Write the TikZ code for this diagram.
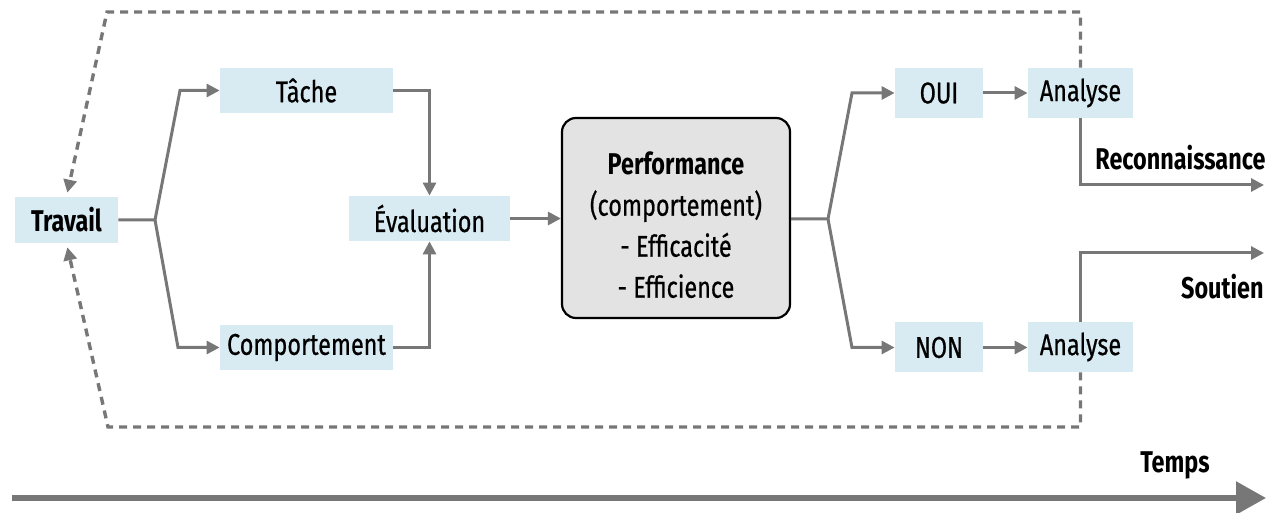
\documentclass[tikz,border=0pt]{standalone}
\usepackage{fontspec}
\setmainfont{Fira Sans}[FakeStretch=0.78]
\newfontfamily\medf{Fira Sans}[FakeStretch=0.78, FakeBold=0.6]
\usetikzlibrary{arrows.meta}
\definecolor{boxblue}{HTML}{D9EBF2}
\definecolor{linegray}{HTML}{777777}
\definecolor{perfgray}{HTML}{E3E3E3}
\tikzset{
  bx/.style={fill=boxblue, inner sep=0pt, font=\medf\fontsize{15}{17}\selectfont},
  conn/.style={draw=linegray, line width=1.5pt, -{Triangle[length=6.5pt,width=6.5pt]}, line join=miter},
  dasharr/.style={draw=linegray, line width=1.7pt, dash pattern=on 4pt off 3pt, -{Triangle[length=6.5pt,width=6.5pt]}},
  timearr/.style={draw=linegray, line width=2.8pt, -{Triangle[length=15pt,width=16pt]}},
  lbl/.style={inner sep=0pt, font=\fontsize{15}{17}\selectfont\bfseries}
}
\begin{document}
\begin{tikzpicture}[x=0.5pt,y=-0.5pt]
\useasboundingbox (0,0) rectangle (1270,513);
% boxes
\node[bx, minimum width=51.5pt, minimum height=23pt, font=\fontsize{15}{17}\selectfont\bfseries] (travail) at (66.5,220) {Travail};
\node[bx, minimum width=86.5pt, minimum height=22.5pt] (tache) at (306.5,90.5) {Tâche};
\node[bx, minimum width=80.5pt, minimum height=22.5pt] (eval) at (429.5,218.5) {Évaluation};
\node[bx, minimum width=86.5pt, minimum height=22.5pt] (comp) at (306.5,347.5) {Comportement};
\node[draw=black, line width=1.1pt, fill=perfgray, rounded corners=7pt, minimum width=114pt, minimum height=100pt, inner sep=0pt] (perf) at (676,218) {};
\node[align=center, inner sep=0pt, font=\medf\fontsize{15}{20.5}\selectfont] (perftext) at (676,225)
  {{\normalfont\fontsize{15}{20.5}\selectfont\bfseries Performance}\\(comportement)\\- Efficacité\\- Efficience};
\node[bx, minimum width=44pt, minimum height=25pt] (oui) at (939,93) {OUI};
\node[bx, minimum width=52.5pt, minimum height=25pt] (an1) at (1080.5,93) {Analyse};
\node[bx, minimum width=44pt, minimum height=25pt] (non) at (939,347.5) {NON};
\node[bx, minimum width=52.5pt, minimum height=25pt] (an2) at (1080.5,347) {Analyse};
% junction coordinates
\coordinate (tb) at (155,220);
\coordinate (tu) at (180,90.5);
\coordinate (td) at (178,347.5);
\coordinate (pb) at (828,219);
\coordinate (pu) at (852,93);
\coordinate (pd) at (852,347.5);
\coordinate (rend) at (1264,185);
\coordinate (send) at (1264,253);
\coordinate (lt) at (107,12);
\coordinate (lb) at (108,427);
\coordinate (t0) at (12,498);
\coordinate (t1) at (1266,498);
% connectors
\draw[conn] (travail.east) -- (tb) -- (tu) -- (tache.west);
\draw[conn] (tb) -- (td) -- (comp.west);
\draw[conn] (tache.east) -| (eval.north);
\draw[conn] (comp.east) -| (eval.south);
\draw[conn] (eval.east) -- (perf.west |- eval.east);
\draw[conn] (perf.east |- pb) -- (pb) -- (pu) -- (oui.west);
\draw[conn] (pb) -- (pd) -- (non.west);
\draw[conn] (oui.east) -- (an1.west);
\draw[conn] (non.east) -- (an2.west |- non.east);
\draw[conn] (an1.south) |- (rend);
\draw[conn] (an2.north) |- (send);
% feedback loops
\draw[dasharr, shorten >=2pt] (an1.north) |- (lt) -- (travail.north);
\draw[dasharr, shorten >=2pt] (an2.south) |- (lb) -- (travail.south);
% time
\draw[timearr] (t0) -- (t1);
% labels
\node[lbl, anchor=west] (reco) at (1095,158) {Reconnaissance};
\node[lbl, anchor=east] (sout) at (1264,287) {Soutien};
\node[lbl] (temps) at (1175,465) {Temps};
\end{tikzpicture}
\end{document}
